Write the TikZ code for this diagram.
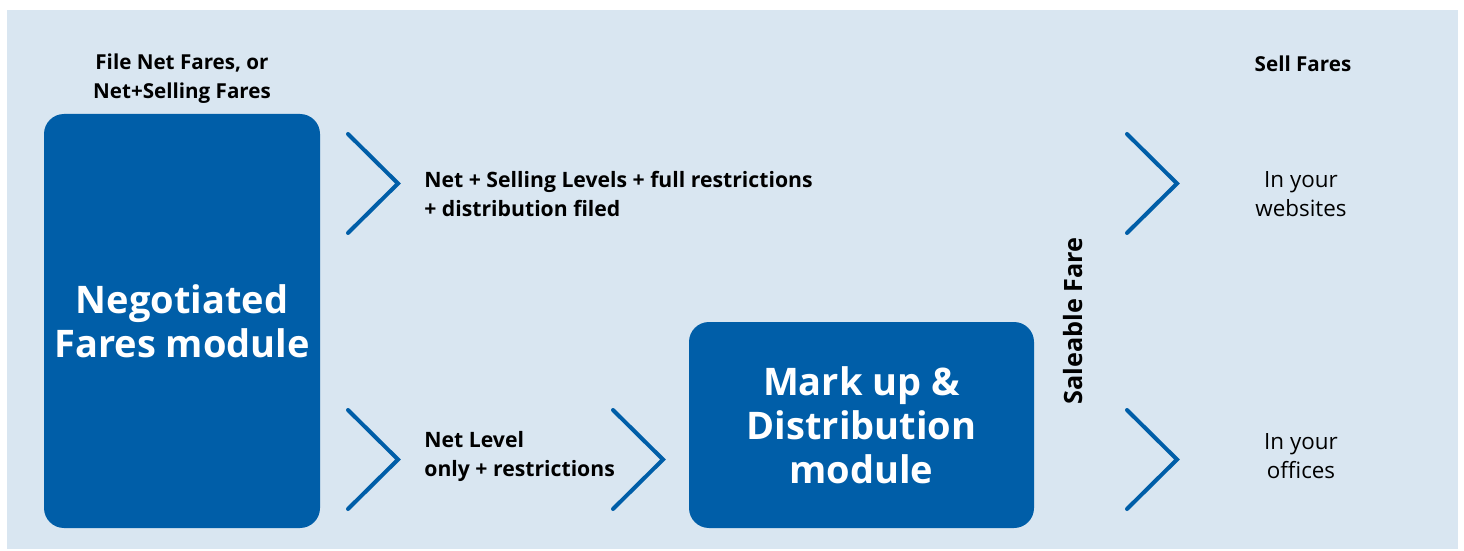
\documentclass[tikz,border=0pt]{standalone}
\usepackage{fontspec}
\setmainfont{Open Sans}
\definecolor{panelblue}{RGB}{217,230,241}
\definecolor{boxblue}{RGB}{0,94,168}
\tikzset{
  module/.style={fill=boxblue, rounded corners=10pt, text=white, align=center, inner sep=0pt,
    font=\bfseries\fontsize{19}{22}\selectfont},
  chevron/.style={draw=boxblue, line width=2pt, line cap=round},
  flowtext/.style={font=\bfseries\fontsize{10.6}{14.3}\selectfont, align=left, anchor=west, inner sep=0pt},
  headtext/.style={font=\bfseries\fontsize{10.3}{14.5}\selectfont, align=center, inner sep=0pt},
  selltext/.style={font=\fontsize{11.2}{14.5}\selectfont, align=center, inner sep=0pt}
}
\begin{document}
\begin{tikzpicture}[x=0.5pt, y=-0.5pt]
    \useasboundingbox (0,0) rectangle (1464,551);
    % Panel
    \fill[panelblue] (7,10) rectangle (1458,549);

    % Modules
    \node[module, minimum width=138pt, minimum height=207pt] (negotiated) at (182,321)
        {Negotiated\\Fares module};
    \node[module, minimum width=172.5pt, minimum height=103pt] (markup) at (861.5,425)
        {Mark up \&\\Distribution\\module};

    % Headings
    \node[headtext] (filefares) at (182,79) {File Net Fares, or\\Net+Selling Fares};
    \node[headtext] (sellfares) at (1303,64) {Sell Fares};
    \node[headtext, rotate=90, font=\bfseries\fontsize{12.6}{14}\selectfont] (saleable) at (1073,321) {Saleable Fare};

    % Chevrons
    \foreach \cx/\cy in {348/134, 348/410, 613/410, 1127/134, 1127/410}
        \draw[chevron] (\cx,\cy) -- ++(50,49.5) -- ++(-50,49.5);

    % Flow labels
    \node[flowtext] (fullrestr) at (424,194) {Net + Selling Levels + full restrictions\\+ distribution filed};
    \node[flowtext] (netlevel) at (424,456.5) {Net Level\\only + restrictions};

    % Outlets
    \node[selltext] (websites) at (1301,194) {In your\\websites};
    \node[selltext] (offices) at (1301,456.5) {In your\\offices};
\end{tikzpicture}
\end{document}
